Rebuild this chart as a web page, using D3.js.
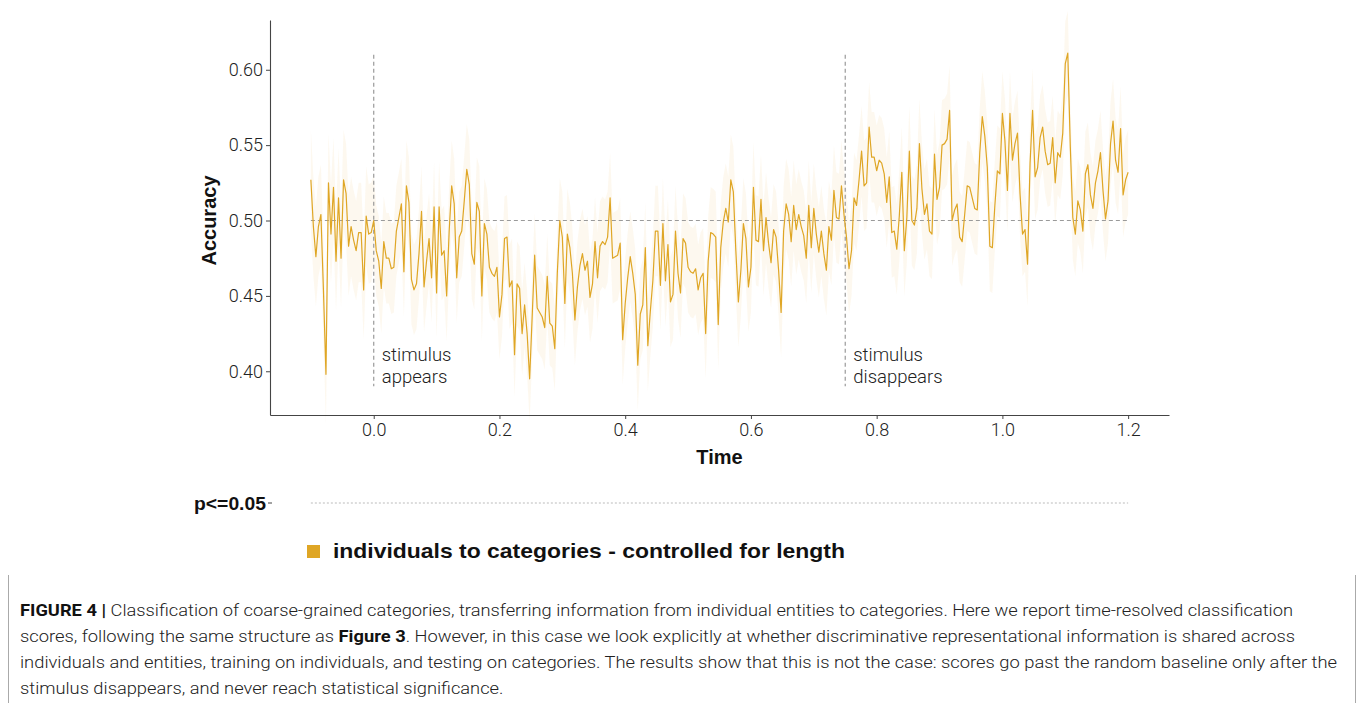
<!DOCTYPE html>
<html>
<head>
<meta charset="utf-8">
<script src="https://cdn.jsdelivr.net/npm/d3@7"></script>
<style>
  body { margin: 0; background: #fff; }
  svg { display: block; }
</style>
</head>
<body>
<div id="chart"></div>
<script>

const width = 1360
const height = 703

// sampling of the decoding time course
const tStart = -0.1
const tStep = 0.004

// mean accuracy, one value per time sample (-0.1 .. 1.2 s)
const accuracy = [
  0.527, 0.496, 0.476, 0.496, 0.504, 0.454, 0.398, 0.525, 0.491, 0.522,
  0.473, 0.515, 0.475, 0.527, 0.518, 0.483, 0.496, 0.487, 0.480, 0.492,
  0.492, 0.454, 0.503, 0.491, 0.492, 0.500, 0.480, 0.473, 0.455, 0.486,
  0.475, 0.475, 0.468, 0.469, 0.493, 0.502, 0.511, 0.466, 0.523, 0.512,
  0.461, 0.454, 0.458, 0.478, 0.506, 0.456, 0.473, 0.488, 0.462, 0.509,
  0.452, 0.509, 0.477, 0.480, 0.450, 0.493, 0.523, 0.511, 0.462, 0.489,
  0.493, 0.513, 0.534, 0.524, 0.478, 0.471, 0.512, 0.506, 0.450, 0.498,
  0.491, 0.469, 0.465, 0.463, 0.469, 0.436, 0.451, 0.488, 0.489, 0.456,
  0.460, 0.411, 0.458, 0.455, 0.425, 0.444, 0.425, 0.395, 0.436, 0.477,
  0.442, 0.439, 0.436, 0.429, 0.463, 0.432, 0.430, 0.415, 0.465, 0.500,
  0.489, 0.445, 0.491, 0.482, 0.465, 0.434, 0.456, 0.470, 0.478, 0.467,
  0.473, 0.449, 0.458, 0.486, 0.462, 0.483, 0.486, 0.484, 0.489, 0.515,
  0.475, 0.476, 0.477, 0.485, 0.421, 0.445, 0.462, 0.476, 0.465, 0.451,
  0.404, 0.438, 0.444, 0.482, 0.417, 0.440, 0.460, 0.493, 0.493, 0.457,
  0.498, 0.460, 0.484, 0.446, 0.451, 0.493, 0.465, 0.452, 0.488, 0.485,
  0.469, 0.466, 0.465, 0.468, 0.454, 0.462, 0.465, 0.425, 0.473, 0.492,
  0.491, 0.489, 0.431, 0.482, 0.499, 0.508, 0.499, 0.527, 0.519, 0.480,
  0.446, 0.467, 0.498, 0.488, 0.456, 0.469, 0.522, 0.487, 0.486, 0.514,
  0.480, 0.502, 0.485, 0.472, 0.494, 0.489, 0.467, 0.439, 0.493, 0.511,
  0.504, 0.486, 0.510, 0.494, 0.504, 0.496, 0.490, 0.475, 0.510, 0.482,
  0.508, 0.491, 0.479, 0.493, 0.478, 0.467, 0.496, 0.487, 0.520, 0.502,
  0.501, 0.523, 0.504, 0.489, 0.468, 0.480, 0.515, 0.510, 0.527, 0.546,
  0.523, 0.525, 0.562, 0.542, 0.542, 0.533, 0.540, 0.538, 0.531, 0.512,
  0.529, 0.492, 0.493, 0.481, 0.503, 0.532, 0.480, 0.502, 0.546, 0.500,
  0.497, 0.508, 0.551, 0.521, 0.504, 0.511, 0.493, 0.491, 0.544, 0.514,
  0.522, 0.550, 0.551, 0.554, 0.573, 0.500, 0.507, 0.511, 0.489, 0.486,
  0.504, 0.523, 0.522, 0.515, 0.508, 0.507, 0.545, 0.569, 0.556, 0.535,
  0.483, 0.482, 0.510, 0.533, 0.531, 0.571, 0.553, 0.520, 0.571, 0.540,
  0.551, 0.558, 0.518, 0.491, 0.494, 0.471, 0.538, 0.573, 0.529, 0.535,
  0.555, 0.562, 0.546, 0.537, 0.538, 0.555, 0.525, 0.545, 0.542, 0.558,
  0.604, 0.611, 0.549, 0.502, 0.491, 0.513, 0.507, 0.493, 0.531, 0.537,
  0.517, 0.508, 0.525, 0.533, 0.545, 0.520, 0.501, 0.513, 0.551, 0.566,
  0.540, 0.532, 0.561, 0.517, 0.527, 0.532
]

// half width of the shaded band, per 100 ms window
const bandHalf = [0.033, 0.030, 0.030, 0.028, 0.030, 0.030, 0.030, 0.030, 0.030, 0.030, 0.030, 0.028, 0.028]

const yTicks = [0.40, 0.45, 0.50, 0.55, 0.60]
const xTicks = [0.0, 0.2, 0.4, 0.6, 0.8, 1.0, 1.2]
const chance = 0.5
const events = [
  { t: 0.0, label: ["stimulus", "appears"] },
  { t: 0.75, label: ["stimulus", "disappears"] }
]
const legendLabel = "individuals to categories - controlled for length"
const sigLabel = "p<=0.05"
const lineColor = "#DFA625"

const caption = [
  [["FIGURE 4 |", true], [" Classification of coarse-grained categories, transferring information from individual entities to categories. Here we report time-resolved classification", false]],
  [["scores, following the same structure as ", false], ["Figure 3", true], [". However, in this case we look explicitly at whether discriminative representational information is shared across", false]],
  [["individuals and entities, training on individuals, and testing on categories. The results show that this is not the case: scores go past the random baseline only after the", false]],
  [["stimulus disappears, and never reach statistical significance.", false]]
]
// full lines are set to the widths measured on the figure
const captionWidths = [1273, 1275, 1317, null]

const data = accuracy.map((v, i) => {
    const t = tStart + i * tStep
    const w = bandHalf[Math.min(bandHalf.length - 1, Math.floor((t - tStart) / 0.1 + 1e-9))]
    return { t: t, v: v, lo: v - w, hi: v + w }
})

const svg = d3.select("#chart")
    .append("svg")
    .attr("width", width)
    .attr("height", height)

svg.append("rect")
    .attr("width", width)
    .attr("height", height)
    .attr("fill", "#fff")

const x = d3.scaleLinear()
    .domain([-0.165, 1.265])
    .range([270, 1169])

const y = d3.scaleLinear()
    .domain([0.371, 0.633])
    .range([415, 20])

const tFirst = data[0].t
const tLast = data[data.length - 1].t

// shaded band
svg.append("path")
    .datum(data)
    .attr("fill", lineColor)
    .attr("fill-opacity", 0.075)
    .attr("d", d3.area()
        .x(d => x(d.t))
        .y0(d => y(d.lo))
        .y1(d => y(d.hi)))

// chance level
svg.append("line")
    .attr("x1", x(tFirst))
    .attr("x2", x(tLast))
    .attr("y1", y(chance))
    .attr("y2", y(chance))
    .attr("stroke", "#9a9a9a")
    .attr("stroke-width", 1.2)
    .attr("stroke-dasharray", "4,3")

// stimulus on / off markers
events.forEach(e => {
    svg.append("line")
        .attr("x1", x(e.t))
        .attr("x2", x(e.t))
        .attr("y1", y(0.61))
        .attr("y2", y(0.39))
        .attr("stroke", "#9a9a9a")
        .attr("stroke-width", 1.2)
        .attr("stroke-dasharray", "4,3")

    svg.append("text")
        .attr("x", x(e.t) + 8)
        .attr("y", y(0.4) - 10)
        .attr("font-family", "Roboto, 'Liberation Sans', sans-serif")
        .attr("font-weight", 300)
        .attr("font-size", 18.5)
        .attr("fill", "#222")
        .selectAll("tspan")
        .data(e.label)
        .enter()
        .append("tspan")
        .attr("x", x(e.t) + 8)
        .attr("dy", (d, i) => i === 0 ? 0 : 22)
        .text(d => d)
})

// accuracy line
svg.append("path")
    .datum(data)
    .attr("fill", "none")
    .attr("stroke", lineColor)
    .attr("stroke-width", 1.2)
    .attr("stroke-linejoin", "round")
    .attr("d", d3.line()
        .x(d => x(d.t))
        .y(d => y(d.v)))

// axes
const yAxis = svg.append("g")
    .attr("transform", "translate(" + x.range()[0] + ",0)")
    .call(d3.axisLeft(y).tickValues(yTicks).tickFormat(d3.format(".2f")).tickSize(4).tickSizeOuter(0).tickPadding(3))

const xAxis = svg.append("g")
    .attr("transform", "translate(0," + y.range()[0] + ")")
    .call(d3.axisBottom(x).tickValues(xTicks).tickFormat(d3.format(".1f")).tickSize(4).tickSizeOuter(0).tickPadding(4))

;[yAxis, xAxis].forEach(g => {
    g.select(".domain").attr("stroke", "#444").attr("stroke-width", 1.1)
    g.selectAll(".tick line").attr("stroke", "#444")
    g.selectAll(".tick text")
        .attr("font-family", "Roboto, 'Liberation Sans', sans-serif")
        .attr("font-weight", 300)
        .attr("font-size", 18)
        .attr("fill", "#222")
})

svg.append("text")
    .attr("transform", "translate(216," + y(0.5) + ") rotate(-90)")
    .attr("text-anchor", "middle")
    .attr("font-family", "'Liberation Sans', Arial, sans-serif")
    .attr("font-weight", "bold")
    .attr("font-size", 20)
    .attr("fill", "#111")
    .text("Accuracy")

svg.append("text")
    .attr("x", (x.range()[0] + x.range()[1]) / 2)
    .attr("y", 464)
    .attr("text-anchor", "middle")
    .attr("font-family", "'Liberation Sans', Arial, sans-serif")
    .attr("font-weight", "bold")
    .attr("font-size", 20)
    .attr("fill", "#111")
    .text("Time")

// significance strip (empty)
const sigY = 503
svg.append("line")
    .attr("x1", x(tFirst))
    .attr("x2", x(tLast))
    .attr("y1", sigY)
    .attr("y2", sigY)
    .attr("stroke", "#aaa")
    .attr("stroke-width", 0.8)
    .attr("stroke-dasharray", "2,2")

svg.append("line")
    .attr("x1", 268)
    .attr("x2", 272)
    .attr("y1", sigY)
    .attr("y2", sigY)
    .attr("stroke", "#444")

svg.append("text")
    .attr("x", 266)
    .attr("y", sigY + 7)
    .attr("text-anchor", "end")
    .attr("font-family", "'Liberation Sans', Arial, sans-serif")
    .attr("font-weight", "bold")
    .attr("font-size", 18)
    .attr("fill", "#111")
    .attr("textLength", 72)
    .attr("lengthAdjust", "spacingAndGlyphs")
    .text(sigLabel)

// legend
svg.append("rect")
    .attr("x", 307)
    .attr("y", 545)
    .attr("width", 13)
    .attr("height", 13)
    .attr("fill", lineColor)

svg.append("text")
    .attr("x", 333)
    .attr("y", 558)
    .attr("font-family", "'Liberation Sans', Arial, sans-serif")
    .attr("font-weight", "bold")
    .attr("font-size", 21)
    .attr("fill", "#111")
    .attr("textLength", 512)
    .attr("lengthAdjust", "spacingAndGlyphs")
    .text(legendLabel)

// caption box
svg.append("path")
    .attr("d", "M8.5,575 V703 M1355.5,575 V703")
    .attr("stroke", "#aaa")
    .attr("fill", "none")

const capText = svg.append("g")
    .attr("font-family", "Roboto, 'Liberation Sans', sans-serif")
    .attr("font-size", 17)
    .attr("fill", "#222")

const capLines = caption.map((line, li) => {
    const t = capText.append("text")
        .attr("x", 20)
        .attr("y", 616 + li * 26)
    line.forEach(part => {
        t.append("tspan")
            .attr("font-weight", part[1] ? 700 : 300)
            .attr("fill", part[1] ? "#111" : "#222")
            .text(part[0])
    })
    return t
})

// the last line gets the same stretch as the first one
const stretch = captionWidths[0] / capLines[0].node().getComputedTextLength()
capLines.forEach((t, li) => {
    const w = captionWidths[li] || t.node().getComputedTextLength() * stretch
    t.attr("textLength", w).attr("lengthAdjust", "spacingAndGlyphs")
})

</script>
</body>
</html>
